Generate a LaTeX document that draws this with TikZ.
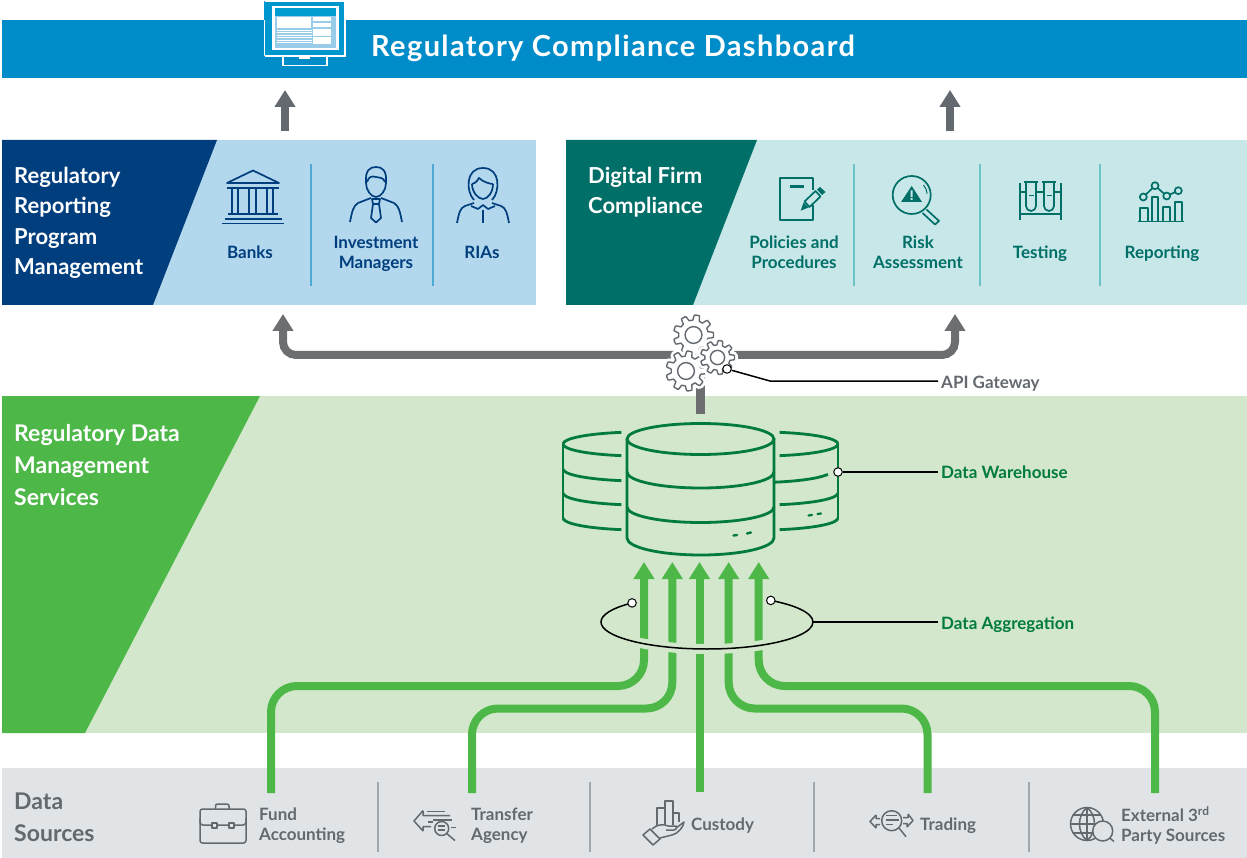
\documentclass[tikz,border=0pt]{standalone}
\usepackage{fontspec}
\setmainfont{Lato}
\usetikzlibrary{arrows.meta}
\definecolor{bandblue}{HTML}{008CC9}
\definecolor{navy}{HTML}{003E7E}
\definecolor{navylight}{HTML}{B3D7ED}
\definecolor{navyrule}{HTML}{4FA9D6}
\definecolor{teal}{HTML}{006F68}
\definecolor{teallight}{HTML}{C8E7E8}
\definecolor{tealrule}{HTML}{6CC4C8}
\definecolor{leaf}{HTML}{4DB848}
\definecolor{leaflight}{HTML}{D2E7CB}
\definecolor{forest}{HTML}{007A3D}
\definecolor{slate}{HTML}{63696F}
\definecolor{pipe}{HTML}{6D6E71}
\definecolor{mist}{HTML}{E0E4E7}
\definecolor{rulegray}{HTML}{A3A8AC}
\tikzset{x=1pt,y=-1pt,
         level/.style={execute at begin node=\vphantom{T},execute at end node=\vphantom{g}},
         head/.style={level,text=white,font=\bfseries\fontsize{22}{30.5}\selectfont,
                      align=left,anchor=west,inner sep=0,yshift=-1.5pt},
         item/.style={level,font=\bfseries\fontsize{17}{20}\selectfont,align=center,inner sep=0,yshift=-1.5pt},
         source/.style={item,text=slate,align=left,anchor=west},
         callout/.style={item,anchor=west,inner sep=3pt},
         pipeup/.style={draw=pipe,line width=8pt,rounded corners=13pt,
                        -{Triangle[width=20pt,length=17pt]}},
         flow/.style={draw=leaf,line width=8pt,rounded corners=26pt,
                      -{Triangle[width=20pt,length=17pt]}},
         leader/.style={draw=black,line width=1.5pt},
         dot/.style={circle,draw=black,fill=white,line width=1pt,inner sep=0,minimum size=8.5pt},
         dbline/.style={draw=forest,line width=2.8pt},
         rulev/.style={line width=1.2pt},
         icon/.style={line width=1.7pt,line join=round},
         pics/cog/.style={code={
            \draw[white,fill=white,line width=7pt,line join=round]
              plot[variable=\t,samples=217,domain=0:360]
              (\t:{#1*(0.87+0.13*min(1,max(-1,2.5*cos(9*\t))))}) -- cycle;
            \draw[slate,fill=white,line width=1.4pt,line join=round]
              plot[variable=\t,samples=217,domain=0:360]
              (\t:{#1*(0.87+0.13*min(1,max(-1,2.5*cos(9*\t))))}) -- cycle;
            \draw[slate,line width=1.4pt] (0,0) circle ({#1*0.42});}}}
\begin{document}
\begin{tikzpicture}
\useasboundingbox (0,0) rectangle (1247,858);

\fill[bandblue] (2,20) rectangle (1247,78);
\fill[navylight] (2,140) rectangle (536,305);
\fill[navy] (2,140) -- (217,140) -- (153,305) -- (2,305) -- cycle;
\fill[teallight] (566,140) rectangle (1247,305);
\fill[teal] (566,140) -- (757,140) -- (693,305) -- (566,305) -- cycle;
\fill[leaflight] (2,396) rectangle (1247,733);
\fill[leaf] (2,396) -- (260,396) -- (85,733) -- (2,733) -- cycle;
\fill[mist] (2,768) rectangle (1247,858);

\node[head,font=\bfseries\fontsize{29}{30}\selectfont] (dashboard) at (371,47)
  {\addfontfeature{LetterSpace=4.7}Regulatory Compliance Dashboard};
\node[head] (regprog) at (14,221.5) {Regulatory\\Reporting\\Program\\Management};
\node[head] (digital) at (588,191) {Digital Firm\\Compliance};
\node[head,font=\bfseries\fontsize{23}{32}\selectfont] (regdata) at (14,466)
  {Regulatory Data\\Management\\Services};
\node[head,text=slate,font=\bfseries\fontsize{23}{32}\selectfont] (datasrc) at (14,818) {Data\\Sources};

\foreach \x in {311,433} \draw[navyrule,rulev] (\x,164) -- (\x,286);
\foreach \x in {854,980,1100} \draw[tealrule,rulev] (\x,164) -- (\x,286);
\foreach \x in {378,590,814,1029} \draw[rulegray,rulev] (\x,782) -- (\x,852);

\node[item,text=navy] (banks) at (250,252) {Banks};
\node[item,text=navy] (managers) at (376,252) {Investment\\Managers};
\node[item,text=navy] (rias) at (482,252) {RIAs};
\node[item,text=teal] (policies) at (794,252) {Policies and\\Procedures};
\node[item,text=teal] (risk) at (918,252) {Risk\\Assessment};
\node[item,text=teal] (testing) at (1040,252) {Testing};
\node[item,text=teal] (reporting) at (1162,252) {Reporting};

\node[source] (fund) at (259,824) {Fund\\Accounting};
\node[source] (transfer) at (471,824) {Transfer\\Agency};
\node[source] (custody) at (691,824) {Custody};
\node[source] (trading) at (920,824) {Trading};
\node[source] (external) at (1121,824) {External 3\textsuperscript{rd}\\Party Sources};

\coordinate (up1) at (285,131);
\coordinate (up1t) at (285,90);
\coordinate (up2) at (950,131);
\coordinate (up2t) at (950,90);
\draw[pipeup,draw=slate] (up1) -- (up1t);
\draw[pipeup,draw=slate] (up2) -- (up2t);

\coordinate (hub) at (700,355);
\coordinate (dbtop) at (700,414);
\coordinate (regtip) at (283,314);
\coordinate (firmtip) at (955,314);
\draw[pipeup] (hub) -- (hub -| regtip) -- (regtip);
\draw[pipeup] (hub) -- (hub -| firmtip) -- (firmtip);
\draw[draw=pipe,line width=9pt] (hub) -- (dbtop);
\pic at (693.5,335) {cog=20};
\pic at (686,371) {cog=20};
\pic at (717.5,357.5) {cog=17};

\node[callout,text=slate] (apilbl) at (938,382) {API Gateway};
\node[dot] (apidot) at (727,369) {};
\coordinate (apibend) at (770,381);
\draw[leader] (apidot) -- (apibend) -- (apilbl.west |- apibend);

% warehouse
\foreach \y in {444,493,518} \draw[dbline] (563,\y) arc[start angle=180,end angle=104,x radius=77,y radius=12];
\draw[dbline] (563,469) arc[start angle=180,end angle=104,x radius=77,y radius=12];
\draw[dbline] (563,444) arc[start angle=180,end angle=256,x radius=77,y radius=12];
\foreach \y in {444,493,518} \draw[dbline] (838,\y) arc[start angle=0,end angle=76,x radius=77,y radius=12];
\draw[dbline] (828,474.5) -- ++(-2,0.6) arc[start angle=22,end angle=76,x radius=77,y radius=12];
\draw[dbline] (838,444) arc[start angle=0,end angle=-76,x radius=77,y radius=12];
\draw[dbline] (563,444) -- (563,518);
\draw[dbline] (838,444) -- (838,518);
\draw[dbline] (627,439) -- (627,538) arc[start angle=180,end angle=0,x radius=73.5,y radius=17] -- (774,439);
\draw[dbline] (700.5,439) ellipse[x radius=73.5,y radius=15.5];
\draw[dbline] (627,472) arc[start angle=180,end angle=0,x radius=73.5,y radius=16];
\draw[dbline] (627,507) arc[start angle=180,end angle=0,x radius=73.5,y radius=15.5];
\draw[forest,line width=2.4pt,line cap=round] (733.5,535.5) -- (737,535) (747,533.5) -- (751,532.5);
\draw[forest,line width=2.2pt,line cap=round] (808.5,515.5) -- (812,515) (817.5,514) -- (821,513.5);

\node[callout,text=forest] (dwlbl) at (938,472) {Data Warehouse};
\node[dot] (dwdot) at (838,472) {};
\draw[leader] (dwdot) -- (dwlbl.west |- dwdot);

% flows up into the warehouse
\foreach \n/\x/\y in {1/271/793,2/472/793,3/699.5/792,4/927.5/793,5/1155/793} \coordinate (s\n) at (\x,\y);
\foreach \n/\x in {1/644,2/672.3,3/699.5,4/728.7,5/758.7} \coordinate (t\n) at (\x,562);
\foreach \n/\y in {1/686,2/708.5,4/708.5,5/686}
  \draw[flow] (s\n) -- (s\n |- 0,\y) -- (t\n |- 0,\y) -- (t\n);
\draw[flow] (s3) -- (t3);

\coordinate (aggc) at (707,622);
\draw[leaflight,line width=10pt] ([shift={(165:106 and 27)}]aggc) arc[start angle=165,end angle=15,x radius=106,y radius=27];
\draw[leader] ([shift={(225:106 and 27)}]aggc) arc[start angle=225,end angle=-53,x radius=106,y radius=27];
\node[dot] (agglf) at ([shift={(225:106 and 27)}]aggc) {};
\node[dot] (aggrt) at ([shift={(-53:106 and 27)}]aggc) {};
\node[callout,text=forest] (agglbl) at (938,623) {Data Aggregation};
\draw[leader] (813,622) -- (agglbl.west |- 813,622);

% monitor
\fill[bandblue!90!cyan] (264,1) rectangle (345.7,56.7);
\draw[white,line width=1.6pt] (264.5,1.5) -- (345,1.5) -- (345,56) -- (264.5,56);
\draw[white,line width=1.6pt] (264.5,20) -- (264.5,56);
\draw[white,line width=2pt,fill=white] (273,7) rectangle (337.5,49);
\fill[bandblue!85!cyan] (274.5,8) rectangle (336,16);
\fill[navylight!85!bandblue] (274.5,16) rectangle (336,48);
\fill[white] (277,17) rectangle (310.7,28);
\foreach \a/\b in {17/21.5,23/27,29/36,37/44} \fill[white] (313,\a) rectangle (331,\b);
\foreach \y in {30.5,33,35.5,38,40.5,43} \draw[white,line width=1pt] (277,\y) -- (312,\y);
\draw[white,line width=1.6pt] (283,57) -- (283,65.5) -- (326.7,65.5) -- (326.7,57);
\draw[white,line width=2.2pt] (299,57.5) -- (310,57.5);

% banks
\begin{scope}[navy,icon]
\draw (227,183) -- (253,170.5) -- (279,183) -- cycle;
\draw (227,188) -- (279,188);
\foreach \x in {231.7,238.3,249,255.7,266.7,273.3} \draw (\x,188) -- (\x,213);
\draw (228,214) -- (278,214) (225,219) -- (282,219) (222,223.5) -- (284,223.5);
\draw (366,183) .. controls (365,170) and (370,167) .. (376,167) .. controls (382,167) and (387,170) .. (386,183)
  .. controls (386,190) and (381,197) .. (376,197) .. controls (371,197) and (366,190) .. (366,183);
\draw (367,182) .. controls (369,176) and (372,176) .. (376,177) .. controls (380,178) and (383,177) .. (385,182);
\draw (350,222) .. controls (352,212) and (353,206) .. (358,203) -- (371,198);
\draw (402,222) .. controls (400,212) and (399,206) .. (394,203) -- (381,198);
\draw (372,199) -- (380,199) -- (379,204) -- (381,218) -- (376,222.5) -- (371,218) -- (373,204) -- cycle (373,204) -- (379,204);
\draw (474,200) .. controls (466,192) and (465,168) .. (483,168) .. controls (501,168) and (500,192) .. (492,200);
\draw (472,184) .. controls (476,183) and (478,180) .. (479,178) .. controls (483,182) and (490,184) .. (493,184);
\draw (472,184) .. controls (472,192) and (478,199) .. (483,199) .. controls (488,199) and (493,192) .. (493,184);
\draw (471,206) -- (478,209) -- (483,205) -- (488,209) -- (495,206);
\draw (483,210) -- (483,223);
\draw (457,223) .. controls (459,213) and (460,208) .. (465,206) -- (474,203);
\draw (509,223) .. controls (507,213) and (506,208) .. (501,206) -- (492,203);
\end{scope}

% firm icons
\begin{scope}[teal,icon]
\draw (812.7,190) -- (812.7,178) -- (780,178) -- (780,220) -- (812.7,220) -- (812.7,205);
\draw[line width=2.6pt] (790,186.7) -- (804,186.7);
\fill (800.7,210.7) -- (803.5,202.5) -- (808.5,207.5) -- cycle;
\draw (804.5,201.5) -- (815.5,191) -- (820.5,196.5) -- (809.5,207) -- cycle;
\fill (817,189.5) -- (820,187) -- (825.5,192) -- (822,195) -- cycle;
\draw (911.7,195) circle (19);
\draw[line width=1pt] (911.7,195) ++(-40:15.5) arc[start angle=-40,end angle=-5,radius=15.5];
\draw (926.5,209.5) -- (939,221) -- (935,224.5) -- (922.5,213);
\fill (911.7,186) -- (922,202) -- (901,202) -- cycle;
\fill[teallight] (910.7,190.5) rectangle (912.7,197) (910.7,198) rectangle (912.7,200);
\draw (1020,183) -- (1020,220) (1061,183) -- (1061,220);
\draw (1020,192) -- (1026,192) (1036,192) -- (1044,192) (1054,192) -- (1061,192) (1020,214) -- (1061,214);
\foreach \x in {1026,1044} {
  \draw (\x,182) -- (\x,206) arc[start angle=180,end angle=0,radius=5] -- (\x+10,182);
  \draw (\x-2,182) -- (\x+12,182);
  \draw[line width=1pt] (\x+2.5,196) -- (\x+7.5,196);
}
\draw (1137.7,221.5) -- (1184,221.5);
\draw (1140,221) -- (1140,208) -- (1147.7,208) -- (1147.7,221);
\draw (1152,221) -- (1152,197) -- (1158,197) -- (1158,221);
\draw (1163,221) -- (1163,206.7) -- (1170,206.7) -- (1170,221);
\draw (1175,221) -- (1175,201.7) -- (1181.7,201.7) -- (1181.7,221);
\draw (1143.3,197) -- (1155,185.7) -- (1166.7,196) -- (1178.3,190.7);
\foreach \x/\y in {1143.3/197,1155/185.7,1166.7/196,1178.3/190.7}
  \draw[fill=teallight] (\x,\y) circle (3.5);
\end{scope}

% source icons
\begin{scope}[slate,icon,line width=1.5pt]
\draw[rounded corners=2.5pt] (200,809) rectangle (246,843);
\draw[rounded corners=2pt] (215.5,809) -- (215.5,804) -- (229,804) -- (229,809);
\draw[rounded corners=3pt] (200,818) -- (200,825) -- (212,825) (217,825) -- (229,825) (234,825) -- (246,825) -- (246,818);
\draw (212,823) rectangle (217,828) (229,823) rectangle (234,828);
\draw (423,810.6) -- (414,821) -- (423,831) (423,810.6) -- (423,815.5) -- (450,815.5) (423,831) -- (423,826.5) -- (431,826.5);
\draw (427,811.5) -- (445,811.5) (433,820) -- (452,820);
\draw (441.7,828.5) circle (7);
\draw (446.7,833.5) -- (455,840.6);
\draw (438,826) -- (445,826) (438,830) -- (445,830) (451,827.5) -- (456,827.5) (428,822) -- (433,822);
\draw (657,825) -- (657,808) -- (665,808) -- (665,825) (665,825) -- (665,801) -- (673,801) -- (673,825) (673,813) -- (679,813) -- (679,822);
\draw (643,835) -- (650,829) -- (660,839) -- (653,845) -- cycle;
\draw (652,829) .. controls (657,824) and (664,824) .. (668,826) -- (676,826) .. controls (678,828) and (676,830) .. (674,830) -- (666,830);
\draw (676,828) -- (684,822) .. controls (684,826) and (678,834) .. (672,835) -- (660,838);
\draw (891.7,820.7) circle (10);
\draw (899,828) -- (906,836.7);
\draw (886,815.5) -- (897,815.5) (886,820) -- (899,820) (886,824.5) -- (893,824.5);
\draw (876,815) -- (870,821.5) -- (876,828) (876,815) -- (876,818.5) -- (880,818.5) (876,828) -- (876,824.5) -- (880,824.5);
\draw (908,814) -- (913,820.5) -- (907,827) (908,814) -- (908,817.5) -- (903,817.5) (907,827) -- (907,823.5) -- (903,823.5);
\draw (1087,824) circle (16.5);
\draw (1087,807.5) .. controls (1077,815) and (1077,833) .. (1087,840.5) (1087,807.5) .. controls (1097,815) and (1097,833) .. (1087,840.5);
\draw (1087,807.5) -- (1087,840.5) (1070.5,824) -- (1103.5,824) (1073,815) -- (1101,815) (1073,833) -- (1093,833);
\draw[fill=mist] (1102.7,831) circle (10);
\draw (1109.7,838) -- (1114,841.5);
\end{scope}
\end{tikzpicture}
\end{document}
